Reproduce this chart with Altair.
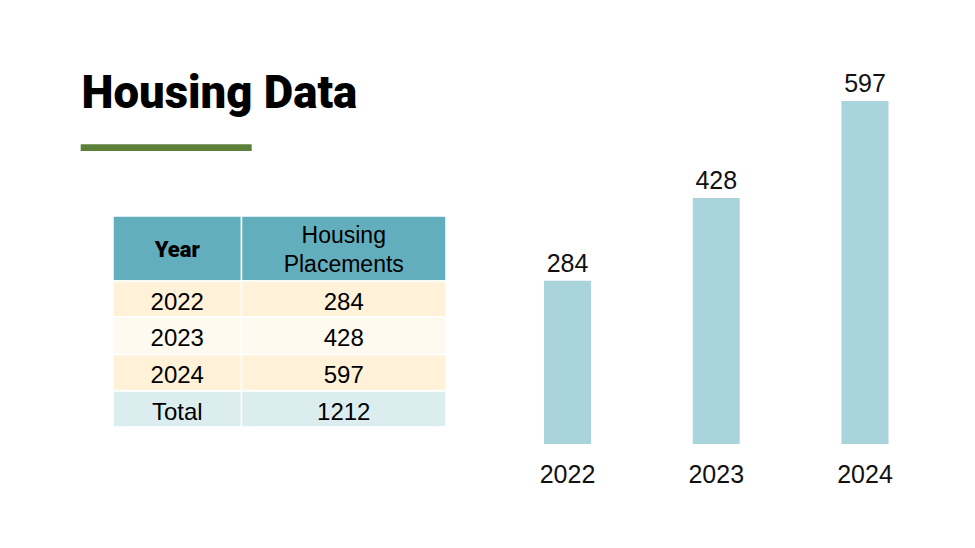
import altair as alt
import pandas as pd

# ---------------- data ----------------
TITLE = "Housing Data"
YEARS = ["2022", "2023", "2024"]
PLACEMENTS = [284, 428, 597]
TOTAL_LABEL = "Total"
TOTAL = 1212
HEAD_YEAR = "Year"
HEAD_PLACEMENTS = "Housing\nPlacements"

# ---------------- layout / style ----------------
W, H = 959, 532
FONT = "Liberation Sans"
TITLE_FONT = "Roboto"
BAR_COLOR = "#aad4dc"
GREEN = "#5c803a"

# table layout, in table units
COL_EDGES = [0, 128.5, 333]
ROW_EDGES = [0, 65, 101, 138.5, 175, 211]
TABLE_X = [105, 438]
TABLE_Y = [208, 419]
ROW_KINDS = ["head", "odd", "even", "odd", "total"]
KIND_DOMAIN = ["head", "odd", "even", "total"]
KIND_RANGE = ["#63aebc", "#fff2d9", "#fffaf0", "#dcedf0"]

# bar chart layout
BAR_X_RANGE = [559.5, 857]
BAR_Y_DOMAIN = [0, 600]
BAR_Y_RANGE = [436, 91.2]

# ---------------- table ----------------
row_labels = [HEAD_YEAR] + YEARS + [TOTAL_LABEL]
row_values = [HEAD_PLACEMENTS] + [str(v) for v in PLACEMENTS] + [str(TOTAL)]

cells, body, head = [], [], []
for r in range(len(ROW_EDGES) - 1):
    y0, y1 = ROW_EDGES[r], ROW_EDGES[r + 1]
    for c in range(2):
        x0, x1 = COL_EDGES[c], COL_EDGES[c + 1]
        cells.append(dict(x0=x0, x1=x1, y0=y0, y1=y1, kind=ROW_KINDS[r]))
        txt = (row_labels if c == 0 else row_values)[r]
        rec = dict(xc=(x0 + x1) / 2, yc=(y0 + y1) / 2, text=txt, col=c)
        (head if r == 0 else body).append(rec)

cells_df = pd.DataFrame(cells)
body_df = pd.DataFrame(body)
head_df = pd.DataFrame(head)

tx = alt.Scale(domain=[COL_EDGES[0], COL_EDGES[-1]], range=TABLE_X, nice=False, zero=False)
ty = alt.Scale(domain=[ROW_EDGES[0], ROW_EDGES[-1]], range=TABLE_Y, nice=False, zero=False)

rects = alt.Chart(cells_df).mark_rect(stroke="white", strokeWidth=1.5).encode(
    x=alt.X("x0:Q", scale=tx, axis=None),
    x2="x1:Q",
    y=alt.Y("y0:Q", scale=ty, axis=None),
    y2="y1:Q",
    color=alt.Color("kind:N", scale=alt.Scale(domain=KIND_DOMAIN, range=KIND_RANGE), legend=None),
)

body_text = alt.Chart(body_df).mark_text(
    font=FONT, fontSize=24, baseline="alphabetic", align="center", dy=10.5, color="#000000"
).encode(
    x=alt.X("xc:Q", scale=tx, axis=None),
    y=alt.Y("yc:Q", scale=ty, axis=None),
    text="text:N",
)

head_year = alt.Chart(head_df).transform_filter("datum.col == 0").mark_text(
    font=TITLE_FONT, fontSize=22, fontWeight=900, baseline="alphabetic", align="center", dy=8.8, color="#000000"
).encode(
    x=alt.X("xc:Q", scale=tx, axis=None),
    y=alt.Y("yc:Q", scale=ty, axis=None),
    text="text:N",
)

head_pl = alt.Chart(head_df).transform_filter("datum.col == 1").mark_text(
    font=FONT, fontSize=23, baseline="top", align="center", dy=-23.2,
    lineBreak="\n", lineHeight=28.4, color="#000000"
).encode(
    x=alt.X("xc:Q", scale=tx, axis=None),
    y=alt.Y("yc:Q", scale=ty, axis=None),
    text="text:N",
)

table = alt.layer(rects, body_text, head_year, head_pl)

# ---------------- bar chart ----------------
bars_df = pd.DataFrame({"year": YEARS, "value": PLACEMENTS})
bx = alt.Scale(type="point", domain=YEARS, range=BAR_X_RANGE, padding=0)
by = alt.Scale(domain=BAR_Y_DOMAIN, range=BAR_Y_RANGE, nice=False, zero=True)

bar = alt.Chart(bars_df).mark_bar(width=47, color=BAR_COLOR).encode(
    x=alt.X("year:O", scale=bx, axis=None),
    y=alt.Y("value:Q", scale=by, axis=None),
)
val_lbl = alt.Chart(bars_df).mark_text(
    font=FONT, fontSize=25, baseline="alphabetic", align="center", dy=-9, color="#111111"
).encode(
    x=alt.X("year:O", scale=bx, axis=None),
    y=alt.Y("value:Q", scale=by, axis=None),
    text="value:Q",
)
yr_lbl = alt.Chart(bars_df).mark_text(
    font=FONT, fontSize=25, baseline="alphabetic", align="center", dy=39, color="#111111"
).encode(
    x=alt.X("year:O", scale=bx, axis=None),
    y=alt.datum(0, scale=by),
    text="year:N",
)
bars = alt.layer(bar, val_lbl, yr_lbl)

# ---------------- title + underline ----------------
title_df = pd.DataFrame({"t": [TITLE]})
title = alt.Chart(title_df).mark_text(
    font=TITLE_FONT, fontSize=45.5, fontWeight=900, align="left", baseline="alphabetic", color="#000000"
).encode(x=alt.value(73.5), y=alt.value(99.5), text="t:N")
underline = alt.Chart(title_df).mark_rule(color=GREEN, strokeWidth=6.7).encode(
    x=alt.value(72.7), x2=alt.value(243.7), y=alt.value(139.6)
)
deco = alt.layer(title, underline)

chart = alt.layer(deco, table, bars).resolve_scale(
    x="independent", y="independent", color="independent"
).properties(
    width=W, height=H, autosize=alt.AutoSizeParams(type="none"), padding=0
).configure_view(strokeWidth=0)

chart.save("out.html", embed_options={"renderer": "svg", "actions": False})
